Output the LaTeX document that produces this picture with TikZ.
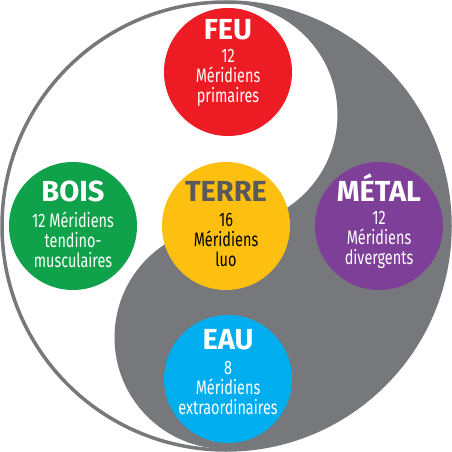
\documentclass[tikz,border=0pt]{standalone}
\usepackage{fontspec}
\setmainfont{Fira Sans}
\newfontfamily\narrowfont[FakeStretch=0.74]{Fira Sans}
\usetikzlibrary{positioning,calc}
\definecolor{yygray}{HTML}{77787B}
\definecolor{feured}{HTML}{ED1C24}
\definecolor{boisgreen}{HTML}{10A14B}
\definecolor{terreyellow}{HTML}{FDC010}
\definecolor{metalpurple}{HTML}{7E3F98}
\definecolor{eaublue}{HTML}{00AEEF}
\definecolor{terretext}{HTML}{58595B}

\begin{document}
\begin{tikzpicture}[x=1pt,y=1pt,
  disc/.style={circle,minimum size=128pt,inner sep=0pt},
  elemtitle/.style={font=\fontsize{29}{30}\selectfont\bfseries,text=white,inner sep=0pt,anchor=base},
  elembody/.style={font=\narrowfont\fontsize{19.5}{20}\selectfont,align=center,text=white,inner sep=0pt}]
\useasboundingbox (-226,-226) rectangle (226,226);
%yin-yang background
\fill[white] (0,0) circle (223);
\fill[yygray] (0,223) arc[start angle=90,end angle=-90,radius=223]
  arc[start angle=-90,end angle=-270,radius=111.5]
  arc[start angle=-90,end angle=90,radius=111.5] -- cycle;
\draw[yygray,line width=3.5] (0,0) circle (224);
%the five elements
\node[disc,fill=feured] (feu) at (2,154) {};
\node[disc,fill=boisgreen] (bois) at (-153,0) {};
\node[disc,fill=terreyellow] (terre) at (0,0) {};
\node[disc,fill=metalpurple] (metal) at (153,0) {};
\node[disc,fill=eaublue] (eau) at (2,-153) {};
%titles
\node[elemtitle] (feutitle) at ($(feu)+(0,32)$) {FEU};
\node[elemtitle] (boistitle) at ($(bois)+(0,24)$) {BOIS};
\node[elemtitle,text=terretext] (terretitle) at ($(terre)+(0,24)$) {TERRE};
\node[elemtitle] (metaltitle) at ($(metal)+(0,24)$) {MÉTAL};
\node[elemtitle] (eautitle) at ($(eau)+(0,30)$) {EAU};
%meridians
\node[elembody] (feubody) at ($(feu)+(0,-6)$) {12\\Méridiens\\primaires};
\node[elembody] (boisbody) at ($(bois)+(0,-14)$) {12 Méridiens\\tendino-\\musculaires};
\node[elembody,text=black] (terrebody) at ($(terre)+(0,-14)$) {16\\Méridiens\\luo};
\node[elembody] (metalbody) at ($(metal)+(0,-14)$) {12\\Méridiens\\divergents};
\node[elembody] (eaubody) at ($(eau)+(0,-9)$) {8\\Méridiens\\extraordinaires};
\end{tikzpicture}
\end{document}
